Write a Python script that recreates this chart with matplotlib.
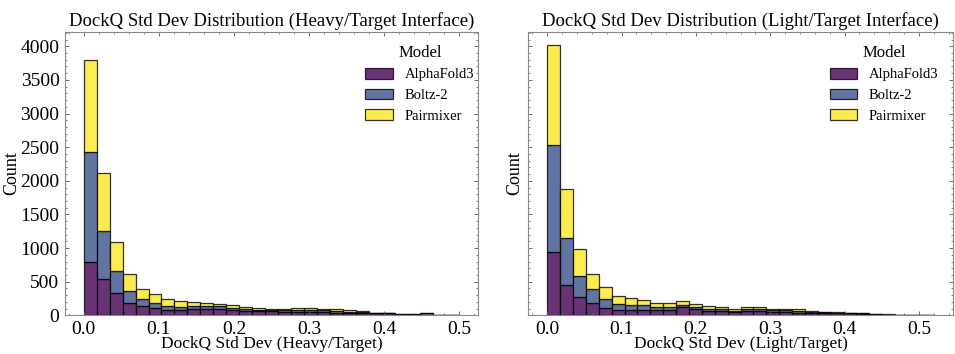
import matplotlib
matplotlib.use("Agg")
import matplotlib.pyplot as plt
import numpy as np
from matplotlib.ticker import AutoMinorLocator, MultipleLocator

models = ["AlphaFold3", "Boltz-2", "Pairmixer"]
colors = ["#440154", "#3b528b", "#fde725"]

# stacked bar tops per bin (AlphaFold3, +Boltz-2, +Pairmixer)
heavy_edges = np.linspace(0.0, 0.5, 30)
heavy_stack = [
    [788, 2429, 3802], [535, 1252, 2112], [330, 664, 1090], [178, 355, 608],
    [132, 243, 387], [102, 183, 312], [84, 144, 238], [84, 119, 208],
    [89, 134, 195], [94, 131, 183], [94, 131, 168], [76, 114, 146],
    [62, 96, 129], [57, 84, 109], [57, 86, 99], [48, 79, 99],
    [52, 86, 111], [50, 84, 111], [45, 74, 99], [38, 64, 89],
    [33, 55, 76], [30, 50, 66], [30, 34, 40], [28, 33, 40],
    [8, 14, 18], [8, 14, 20], [8, 30, 35], [3, 6, 10], [3, 5, 8],
]

light_edges = np.linspace(0.0, 0.52, 31)
light_stack = [
    [940, 2538, 4015], [446, 1150, 1884], [276, 590, 988], [180, 387, 620],
    [109, 246, 416], [86, 168, 290], [86, 160, 255], [84, 149, 223],
    [74, 124, 185], [79, 124, 178], [122, 154, 208], [92, 127, 170],
    [67, 99, 134], [59, 91, 124], [48, 69, 96], [59, 99, 121],
    [59, 99, 121], [48, 79, 101], [50, 79, 99], [40, 69, 89],
    [30, 50, 69], [28, 45, 55], [30, 38, 45], [30, 35, 40],
    [25, 30, 35], [10, 15, 20], [8, 12, 15], [4, 7, 10], [2, 4, 5], [2, 4, 5],
]

plt.rcParams["font.family"] = ["Liberation Serif", "DejaVu Serif"]
plt.rcParams["mathtext.fontset"] = "stix"


def draw_panel(ax, edges, stack, title, xlabel, legend_anchor):
    stack = np.array(stack, dtype=float)
    counts = np.diff(np.column_stack([np.zeros(len(stack)), stack]), axis=1)
    left = edges[:-1]
    width = np.diff(edges)
    bottom = np.zeros(len(left))
    for i, name in enumerate(models):
        ax.bar(left, counts[:, i], width=width, bottom=bottom, align="edge",
               color=colors[i], edgecolor="black", linewidth=0.9, alpha=0.8,
               label=name)
        bottom += counts[:, i]
    ax.set_title(title, fontsize=13.5, pad=4)
    ax.set_xlabel(xlabel, fontsize=12.5, labelpad=-1)
    ax.set_xticks([0.0, 0.1, 0.2, 0.3, 0.4, 0.5])
    ax.xaxis.set_minor_locator(AutoMinorLocator(5))
    ax.yaxis.set_major_locator(MultipleLocator(500))
    ax.yaxis.set_minor_locator(AutoMinorLocator(5))
    ax.tick_params(which="both", direction="in", top=True, right=True,
                   labelsize=14, color="#555555")
    ax.tick_params(which="major", length=3, width=0.6, pad=4)
    ax.tick_params(which="minor", length=1.6, width=0.5)
    for s in ax.spines.values():
        s.set_color("#888888")
        s.set_linewidth(0.8)
    leg = ax.legend(title="Model", frameon=False, loc="upper right",
                    bbox_to_anchor=legend_anchor, borderaxespad=0,
                    fontsize=10.5, title_fontsize=12, handlelength=1.9,
                    handleheight=0.75, labelspacing=0.5, handletextpad=0.8)
    for h in leg.legend_handles:
        h.set_alpha(0.8)


fig = plt.figure(figsize=(9.55, 3.54), dpi=100)
ax1 = fig.add_axes([0.0681, 0.1093, 0.4325, 0.801])
ax2 = fig.add_axes([0.5529, 0.1093, 0.445, 0.801], sharey=ax1)

draw_panel(ax1, heavy_edges, heavy_stack,
           "DockQ Std Dev Distribution (Heavy/Target Interface)",
           "DockQ Std Dev (Heavy/Target)", (1.005, 0.975))
draw_panel(ax2, light_edges, light_stack,
           "DockQ Std Dev Distribution (Light/Target Interface)",
           "DockQ Std Dev (Light/Target)", (0.98, 0.975))

ax1.set_ylim(0, 4216)
ax1.set_ylabel("Count", fontsize=13)
ax2.set_ylabel("Count", fontsize=13)
ax1.yaxis.set_label_coords(-0.108, 0.5)
ax2.yaxis.set_label_coords(-0.012, 0.5)
plt.setp(ax2.get_yticklabels(), visible=False)

fig.savefig("out.png", dpi=100)
